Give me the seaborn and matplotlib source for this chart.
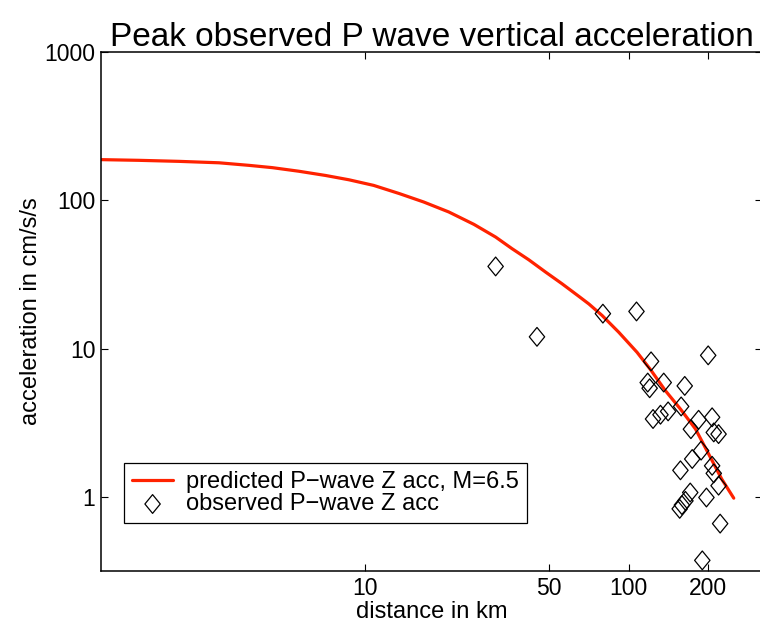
import numpy as np
import pandas as pd
import matplotlib
matplotlib.use("Agg")
import matplotlib.pyplot as plt
from matplotlib.path import Path
from matplotlib.ticker import FixedLocator, FixedFormatter, NullLocator
import seaborn as sns

# predicted curve
curve_dist = [1.0, 1.39, 1.98, 2.80, 3.64, 4.46, 5.62, 7.10, 8.7, 10.8, 13.5,
              16.7, 20.8, 25.9, 31.3, 36.1, 41.8, 48.4, 55.8, 64.7, 70.6,
              79.3, 91.6, 107.5, 121, 137.7, 157, 179, 201, 225, 250]
curve_acc = [188, 186, 183, 179, 172, 166, 157, 147, 137.5, 126, 111,
             97.4, 83.4, 68.8, 56.5, 47.2, 39.7, 32.8, 27.4, 22.5, 20.0,
             16.7, 12.9, 9.44, 7.2, 5.2, 3.91, 2.87, 1.94, 1.32, 0.98]

# observed points
obs_dist = [31.3, 44.9, 79.8, 107, 121.5, 200, 118, 120, 135.7, 163,
            123.6, 131.9, 141, 158, 184, 207, 172, 210, 219, 188,
            174, 157, 207, 210, 219, 171, 164, 159, 156, 197, 222, 190]
obs_acc = [35.8, 12.0, 17.2, 17.8, 8.2, 9.0, 5.9, 5.4, 5.9, 5.6,
           3.35, 3.58, 3.77, 4.07, 3.31, 3.44, 2.86, 2.72, 2.65, 2.05,
           1.80, 1.51, 1.62, 1.44, 1.19, 1.07, 0.94, 0.88, 0.83, 0.99, 0.66, 0.373]

xticks = [10, 50, 100, 200]
xticklabels = ["10", "50", "100", "200"]
yticks = [1, 10, 100, 1000]
yticklabels = ["1", "10", "100", "1000"]

sns.set_style("ticks")
plt.rcParams["font.family"] = ["Liberation Sans", "DejaVu Sans"]
plt.rcParams["axes.unicode_minus"] = True
for k in ["text.color", "axes.labelcolor", "xtick.color", "ytick.color",
          "xtick.labelcolor", "ytick.labelcolor"]:
    plt.rcParams[k] = "black"

fig = plt.figure(figsize=(7.6, 6.29), dpi=100)
ax = fig.add_axes([101/760, 58/629, 661/760, 519/629])

df_curve = pd.DataFrame({"d": curve_dist, "a": curve_acc})
df_obs = pd.DataFrame({"d": obs_dist, "a": obs_acc})

sns.lineplot(data=df_curve, x="d", y="a", ax=ax, color="#ff2200", linewidth=2.3,
             label="predicted P\u2212wave Z acc, M=6.5", sort=False, estimator=None)

diamond = Path([(0, 1), (0.82, 0), (0, -1), (-0.82, 0), (0, 1)],
               [Path.MOVETO, Path.LINETO, Path.LINETO, Path.LINETO, Path.CLOSEPOLY])
ax.scatter(df_obs["d"], df_obs["a"], marker=diamond, s=13.5**2,
           facecolors="none", edgecolors="black", linewidths=0.9,
           label="observed P\u2212wave Z acc", zorder=3)

ax.set_xscale("log")
ax.set_yscale("log")
ax.set_xlim(1, 10**2.505)
ax.set_ylim(10**-0.5, 1000)

ax.xaxis.set_major_locator(FixedLocator(xticks))
ax.xaxis.set_major_formatter(FixedFormatter(xticklabels))
ax.xaxis.set_minor_locator(NullLocator())
ax.yaxis.set_major_locator(FixedLocator(yticks))
ax.yaxis.set_major_formatter(FixedFormatter(yticklabels))
ax.yaxis.set_minor_locator(NullLocator())

ax.tick_params(axis="both", which="major", direction="in", length=5, width=0.8,
               labelsize=16.5, top=True, right=True, colors="black", pad=4)
for sp in ax.spines.values():
    sp.set_visible(True)
    sp.set_linewidth(1.1)
    sp.set_color("black")

ax.set_xlabel("distance in km", fontsize=17, labelpad=1)
ax.set_ylabel("acceleration in cm/s/s", fontsize=17, labelpad=2)
ax.set_title("Peak observed P wave vertical acceleration", fontsize=24, pad=4)

leg = ax.legend(loc="lower left", bbox_to_anchor=(0.035, 0.0925), borderaxespad=0,
                fontsize=17, frameon=True, fancybox=False, framealpha=1,
                edgecolor="black", handlelength=1.75, handletextpad=0.55,
                labelspacing=0.0, borderpad=0.33)
leg.get_frame().set_linewidth(0.9)

fig.savefig("out.png", dpi=100)
